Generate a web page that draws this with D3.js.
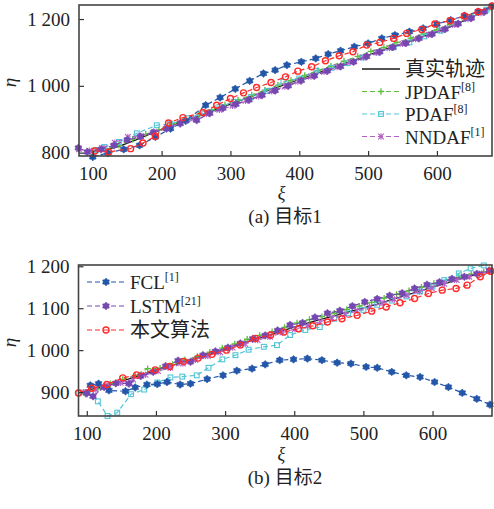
<!DOCTYPE html>
<html><head><meta charset="utf-8">
<script src="https://cdn.jsdelivr.net/npm/d3@7"></script>
<style>
body{margin:0;background:#fff;}
svg text{font-family:"Liberation Serif","Times New Roman","Noto Sans CJK SC",serif;fill:#222;}
</style></head><body>
<svg id="c" width="494" height="509"></svg>
<script>
// ---------- panel (a): target 1 ----------
const xTicksA = [100, 200, 300, 400, 500, 600];
const yTicksA = [800, 1000, 1200];
const yTickLabelsA = ["800", "1 000", "1 200"];

const truthA_x = [100,120,140,160,180,200,220,240,260,280,300,320,340,360,380,400,420,440,460,480,500,520,540,560,580,600,620,640,660,680];
const truthA_y = [805,809,820,836,853,870,885,899,914,930,945,960,975,990,1004,1019,1034,1048,1063,1077,1092,1106,1120,1134,1148,1162,1178,1196,1215,1236];

const jpdafA_x = [100,119,138,158,177,196,215,234,254,273,292,311,331,350,369,388,408,427,446,465,485,504,523,542,562,581,600,619,639,658,677];
const jpdafA_y = [806,810,822,840,855,868,887,898,912,928,943,958,973,987,1002,1016,1031,1046,1059,1074,1088,1103,1115,1130,1143,1156,1168,1184,1203,1220,1234];

const pdafA_x = [105,117,138,164,193,212,238,262,284,305,330,353,377,400,425,447,470,492,514,537,560,582,605,627,650,672];
const pdafA_y = [808,817,832,858,882,886,903,918,937,952,966,985,1012,1022,1045,1054,1068,1085,1100,1115,1130,1148,1165,1185,1205,1228];

const nndafA_x = [80,95,113,132,151,170,189,208,227,246,265,284,303,322,341,360,379,398,417,436,455,474,493,512,531,550,569,588,607,626,645,664,683];
const nndafA_y = [810,806,814,830,847,850,862,874,890,902,916,928,940,955,969,984,998,1013,1028,1042,1056,1071,1085,1100,1113,1126,1140,1153,1167,1183,1200,1218,1238];

const fclA_x = [100,122,145,168,191,213,235,264,285,307,328,348,365,382,403,424,442,460,480,500,520,539,560,580,600,620,640,660,680];
const fclA_y = [787,799,810,822,847,872,895,942,965,991,1015,1037,1047,1062,1072,1082,1095,1105,1117,1127,1142,1152,1162,1172,1185,1197,1210,1222,1238];

const lstmA_x = [79,92,112,131,150,169,188,207,227,251,270,289,308,327,346,365,384,403,422,441,460,479,498,517,536,555,574,593,612,631,650,669];
const lstmA_y = [814,802,810,822,838,848,860,872,887,897,918,933,945,958,972,986,1000,1016,1030,1045,1058,1072,1088,1102,1116,1128,1142,1155,1170,1186,1203,1222];

const oursA_x = [103,123,155,173,191,210,231,260,280,300,319,338,359,380,398,418,438,458,478,498,517,537,556,578,597,619,640,660,680];
const oursA_y = [805,802,812,829,849,889,905,920,942,962,979,995,1010,1027,1044,1057,1075,1090,1102,1122,1130,1142,1157,1169,1185,1195,1209,1222,1239];

// ---------- panel (b): target 2 ----------
const xTicksB = [100, 200, 300, 400, 500, 600];
const yTicksB = [900, 1000, 1100, 1200];
const yTickLabelsB = ["900", "1 000", "1 100", "1 200"];

const truthB_x = [88,100,120,140,160,180,200,220,240,260,280,300,320,340,360,380,400,420,440,460,480,500,520,540,560,580,600,620,640,660,686];
const truthB_y = [898,904,912,921,931,942,952,962,972,982,992,1003,1014,1024,1034,1045,1055,1065,1074,1083,1092,1101,1110,1120,1130,1140,1150,1160,1170,1179,1190];

const jpdafB_x = [98,116,134,152,170,188,206,224,242,260,278,296,314,332,350,368,386,404,422,440,458,476,494,512,530,548,566,584,602,620,638,656,674];
const jpdafB_y = [895,908,920,930,940,956,957,966,977,985,995,1005,1015,1026,1035,1044,1054,1065,1073,1080,1088,1097,1105,1114,1124,1133,1142,1150,1159,1166,1174,1181,1187];

const pdafB_x = [88,101,116,130,144,164,183,202,221,238,259,276,296,315,334,356,375,394,416,437,458,478,500,520,541,562,582,600,617,638,655,674];
const pdafB_y = [898,900,878,843,851,895,906,923,935,937,940,958,978,988,1001,1008,1012,1036,1048,1055,1075,1088,1096,1108,1118,1128,1140,1152,1167,1183,1195,1202];

const nndafB_x = [95,113,131,149,167,185,203,221,239,257,275,293,311,329,347,365,383,401,419,437,455,473,491,509,527,545,563,581,599,617,635,653,671,686];
const nndafB_y = [900,906,915,922,930,941,950,958,968,977,986,995,1006,1015,1024,1032,1042,1050,1058,1068,1076,1085,1094,1103,1112,1121,1131,1140,1148,1158,1167,1175,1183,1190];

const fclB_x = [105,117,132,156,170,187,202,216,235,250,274,297,317,339,358,379,399,419,440,462,482,504,520,541,562,582,603,623,643,664,683];
const fclB_y = [916,920,904,902,911,918,919,924,918,920,931,940,951,956,966,976,978,980,976,970,968,960,958,948,940,936,924,912,898,884,870];

const lstmB_x = [100,109,125,142,161,178,196,214,232,250,268,286,304,322,340,358,376,394,412,430,448,466,484,502,520,538,556,574,592,610,628,646,664,682];
const lstmB_y = [897,890,912,921,920,938,948,962,975,972,988,997,1006,1016,1027,1035,1047,1060,1065,1078,1088,1094,1105,1115,1122,1130,1136,1147,1156,1162,1170,1175,1182,1190];

const oursB_x = [88,107,129,152,172,199,220,240,261,281,302,322,344,366,385,406,427,448,469,491,512,533,553,574,594,614,634,650,669,684];
const oursB_y = [898,909,918,934,941,953,961,973,981,990,1000,1012,1028,1036,1043,1051,1058,1067,1075,1083,1093,1103,1113,1123,1135,1143,1147,1155,1175,1188];

// ---------- styles ----------
const C = {
  truth: "#1a1a1a", jpdaf: "#5cbc3c", pdaf: "#52c4d6", nndaf: "#b35fc6",
  fcl: "#2356a8", lstm: "#7448b0", ours: "#ff2b2b"
};

const svg = d3.select("#c");

function hexagramPath(r) {
  const pts = [];
  for (let i = 0; i < 12; i++) {
    const a = -Math.PI / 2 + i * Math.PI / 6;
    const rr = i % 2 === 0 ? r : r * 0.7;
    pts.push([rr * Math.cos(a), rr * Math.sin(a)]);
  }
  return "M" + pts.map(p => p.join(",")).join("L") + "Z";
}

function drawMarker(g, kind, color, cx, cy) {
  const m = g.append("g").attr("transform", `translate(${cx},${cy})`);
  if (kind === "plus") {
    m.append("path").attr("d", "M-3.2,0H3.2M0,-3.2V3.2").attr("stroke", color).attr("stroke-width", 1.3).attr("fill", "none");
  } else if (kind === "square") {
    m.append("rect").attr("x", -2.4).attr("y", -2.4).attr("width", 4.8).attr("height", 4.8)
      .attr("fill", "none").attr("stroke", color).attr("stroke-width", 1.1);
  } else if (kind === "cross") {
    m.append("path").attr("d", "M-2.8,-2.8L2.8,2.8M-2.8,2.8L2.8,-2.8M0,-3.2V3.2").attr("stroke", color).attr("stroke-width", 1.1).attr("fill", "none");
  } else if (kind === "hex") {
    m.append("path").attr("d", hexagramPath(3.9)).attr("fill", color).attr("stroke", color).attr("stroke-width", 0.6);
  } else if (kind === "circle") {
    m.append("circle").attr("r", 3.0).attr("fill", "none").attr("stroke", color).attr("stroke-width", 1.4);
  }
}

function drawPanel(cfg) {
  const x = d3.scaleLinear().domain(cfg.xDomain).range([cfg.left, cfg.right]);
  const y = d3.scaleLinear().domain(cfg.yDomain).range([cfg.bottom, cfg.top]);
  const g = svg.append("g");

  const line = d3.line().x(d => x(d[0])).y(d => y(d[1]));
  cfg.series.forEach(s => {
    const pts = s.xs.map((v, i) => [v, s.ys[i]]);
    g.append("path").attr("d", line(pts)).attr("fill", "none")
      .attr("stroke", s.color).attr("stroke-width", s.dash ? 1.2 : 1.3)
      .attr("stroke-dasharray", s.dash ? "5,3" : null);
    if (s.marker) pts.forEach(p => drawMarker(g, s.marker, s.color, x(p[0]), y(p[1])));
  });

  // axes with inward ticks
  const ax = g.append("g").attr("transform", `translate(0,${cfg.bottom})`)
    .call(d3.axisBottom(x).tickValues(cfg.xTicks).tickSize(-5).tickPadding(11).tickFormat(d3.format("d")));
  const ay = g.append("g").attr("transform", `translate(${cfg.left},0)`)
    .call(d3.axisLeft(y).tickValues(cfg.yTicks).tickSize(-5).tickPadding(9)
      .tickFormat((d, i) => cfg.yTickLabels[i]));
  [ax, ay].forEach(a => {
    a.select(".domain").remove();
    a.selectAll("line").attr("stroke", "#333").attr("stroke-width", 1.2);
    a.selectAll("text").attr("font-size", 19).attr("fill", "#222")
      .style("font-family", '"Liberation Serif","Times New Roman",serif');
  });

  // frame
  g.append("rect").attr("x", cfg.left).attr("y", cfg.top)
    .attr("width", cfg.right - cfg.left).attr("height", cfg.bottom - cfg.top)
    .attr("fill", "none").attr("stroke", "#444").attr("stroke-width", 1.6);

  // axis titles and caption
  g.append("text").attr("x", (cfg.left + cfg.right) / 2 - 4).attr("y", cfg.xiY)
    .attr("text-anchor", "middle").attr("font-size", 18).attr("font-style", "italic").text("ξ");
  g.append("text").attr("transform", `translate(16,${(cfg.top + cfg.bottom) / 2 + 2}) rotate(-90)`)
    .attr("text-anchor", "middle").attr("font-size", 19).attr("font-style", "italic").text("η");
  g.append("text").attr("x", 285).attr("y", cfg.capY).attr("text-anchor", "middle")
    .attr("font-size", 19).text(cfg.caption);

  // legend
  cfg.legend.forEach((s, i) => {
    const ly = cfg.legY + i * cfg.legStep;
    g.append("line").attr("x1", cfg.legX).attr("x2", cfg.legX + 38).attr("y1", ly).attr("y2", ly)
      .attr("stroke", s.color).attr("stroke-width", s.dash ? 1.2 : 1.5)
      .attr("stroke-dasharray", s.dash ? "5,3" : null);
    if (s.marker) drawMarker(g, s.marker, s.color, cfg.legX + 19, ly);
    const t = g.append("text").attr("x", cfg.legX + 43).attr("y", ly + 7).attr("font-size", s.cjk ? 20 : 19);
    t.append("tspan").text(s.name);
    if (s.ref) t.append("tspan").attr("font-size", 12).attr("dy", -8).text(s.ref);
  });
}

const sTruthA = {name: "真实轨迹", cjk: true, xs: truthA_x, ys: truthA_y, color: C.truth};
const sJpdafA = {name: "JPDAF", ref: "[8]", xs: jpdafA_x, ys: jpdafA_y, color: C.jpdaf, marker: "plus", dash: true};
const sPdafA  = {name: "PDAF", ref: "[8]", xs: pdafA_x, ys: pdafA_y, color: C.pdaf, marker: "square", dash: true};
const sNndafA = {name: "NNDAF", ref: "[1]", xs: nndafA_x, ys: nndafA_y, color: C.nndaf, marker: "cross", dash: true};
const sFclA   = {name: "FCL", ref: "[1]", xs: fclA_x, ys: fclA_y, color: C.fcl, marker: "hex", dash: true};
const sLstmA  = {name: "LSTM", ref: "[21]", xs: lstmA_x, ys: lstmA_y, color: C.lstm, marker: "hex", dash: true};
const sOursA  = {name: "本文算法", cjk: true, xs: oursA_x, ys: oursA_y, color: C.ours, marker: "circle", dash: true};

drawPanel({
  left: 79, right: 492, top: 5, bottom: 156,
  xDomain: [80, 680], yDomain: [790, 1242],
  xTicks: xTicksA, yTicks: yTicksA, yTickLabels: yTickLabelsA,
  xiY: 199, capY: 223, caption: "(a) 目标1",
  series: [sTruthA, sJpdafA, sPdafA, sNndafA, sFclA, sLstmA, sOursA],
  legend: [sTruthA, sJpdafA, sPdafA, sNndafA],
  legX: 362, legY: 69, legStep: 22.5
});

const sTruthB = {name: "真实轨迹", xs: truthB_x, ys: truthB_y, color: C.truth};
const sJpdafB = {name: "JPDAF", xs: jpdafB_x, ys: jpdafB_y, color: C.jpdaf, marker: "plus", dash: true};
const sPdafB  = {name: "PDAF", xs: pdafB_x, ys: pdafB_y, color: C.pdaf, marker: "square", dash: true};
const sNndafB = {name: "NNDAF", xs: nndafB_x, ys: nndafB_y, color: C.nndaf, marker: "cross", dash: true};
const sFclB   = {name: "FCL", ref: "[1]", xs: fclB_x, ys: fclB_y, color: C.fcl, marker: "hex", dash: true};
const sLstmB  = {name: "LSTM", ref: "[21]", xs: lstmB_x, ys: lstmB_y, color: C.lstm, marker: "hex", dash: true};
const sOursB  = {name: "本文算法", cjk: true, xs: oursB_x, ys: oursB_y, color: C.ours, marker: "circle", dash: true};

drawPanel({
  left: 78.5, right: 492, top: 265, bottom: 416,
  xDomain: [88, 686], yDomain: [843, 1203],
  xTicks: xTicksB, yTicks: yTicksB, yTickLabels: yTickLabelsB,
  xiY: 460, capY: 484, caption: "(b) 目标2",
  series: [sTruthB, sJpdafB, sPdafB, sNndafB, sFclB, sLstmB, sOursB],
  legend: [sFclB, sLstmB, sOursB],
  legX: 87, legY: 282, legStep: 24
});
</script>
</body></html>
